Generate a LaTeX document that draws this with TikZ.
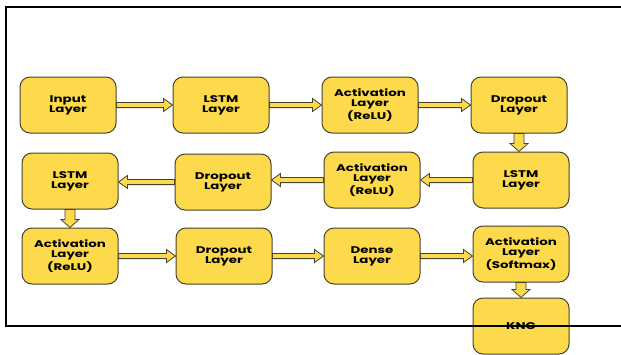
\documentclass[tikz,border=0pt]{standalone}
\usepackage{fontspec}
\setmainfont{Poppins}[FakeStretch=1.38]
\usetikzlibrary{calc}
\definecolor{boxfill}{RGB}{253,217,76}
\definecolor{boxline}{RGB}{70,66,50}
\tikzset{
  layerbox/.style={draw=boxline, fill=boxfill, line width=1pt, rounded corners=10pt,
    minimum width=96pt, minimum height=56pt, align=center,
    font=\bfseries\fontsize{9.7}{9.9}\selectfont, inner sep=1pt},
  arrstyle/.style={draw=boxline, fill=boxfill, line width=0.8pt, line join=miter},
  frameline/.style={draw=black, line width=1.8pt}
}
% from, to, half shaft, half head, head length
\newcommand{\blockarr}[5]{%
  \coordinate (tA) at (#1);
  \coordinate (tB) at (#2);
  \coordinate (tC) at ($(tB)!#5!(tA)$);
  \draw[arrstyle] ($(tA)!#3!90:(tB)$) -- ($(tC)!#3!90:(tB)$) -- ($(tC)!#4!90:(tB)$) -- (tB)
     -- ($(tC)!#4!-90:(tB)$) -- ($(tC)!#3!-90:(tB)$) -- ($(tA)!#3!-90:(tB)$) -- cycle;
}
\newcommand{\harr}[2]{\blockarr{#1.east}{#1.east -| #2.west}{2.6pt}{6.5pt}{9pt}}
\newcommand{\harl}[2]{\blockarr{#1.west}{#1.west -| #2.east}{2.6pt}{6.5pt}{9pt}}
\newcommand{\varr}[2]{\blockarr{#1.south}{#1.south |- #2.north}{5pt}{9pt}{8pt}}
\begin{document}
\begin{tikzpicture}[x=1pt,y=-1pt]
\useasboundingbox (0,0) rectangle (621,354);
% row 1
\node[layerbox] (inp)   at (68,105)  {Input\\Layer};
\node[layerbox] (lstma) at (221,105) {LSTM\\Layer};
\node[layerbox] (acta)  at (370,105) {Activation\\Layer\\(ReLU)};
\node[layerbox] (dropa) at (519,105) {Dropout\\Layer};
% row 2
\node[layerbox] (lstmb) at (521,180) {LSTM\\Layer};
\node[layerbox] (actb)  at (372,180) {Activation\\Layer\\(ReLU)};
\node[layerbox] (dropb) at (223,182) {Dropout\\Layer};
\node[layerbox] (lstmc) at (70,181)  {LSTM\\Layer};
% row 3
\node[layerbox] (actc)  at (70,256)  {Activation\\Layer\\(ReLU)};
\node[layerbox] (dropc) at (224,256) {Dropout\\Layer};
\node[layerbox] (dense) at (372,256) {Dense\\Layer};
\node[layerbox] (soft)  at (521,254) {Activation\\Layer\\(Softmax)};
\node[layerbox] (knc)   at (521,326) {KNC};
% arrows
\harr{inp}{lstma}
\harr{lstma}{acta}
\harr{acta}{dropa}
\varr{dropa}{lstmb}
\harl{lstmb}{actb}
\harl{actb}{dropb}
\harl{dropb}{lstmc}
\varr{lstmc}{actc}
\harr{actc}{dropc}
\harr{dropc}{dense}
\harr{dense}{soft}
\varr{soft}{knc}
% frame
\draw[frameline] (621,7) -- (6,7) -- (6,326) -- (621,326);
\end{tikzpicture}
\end{document}
